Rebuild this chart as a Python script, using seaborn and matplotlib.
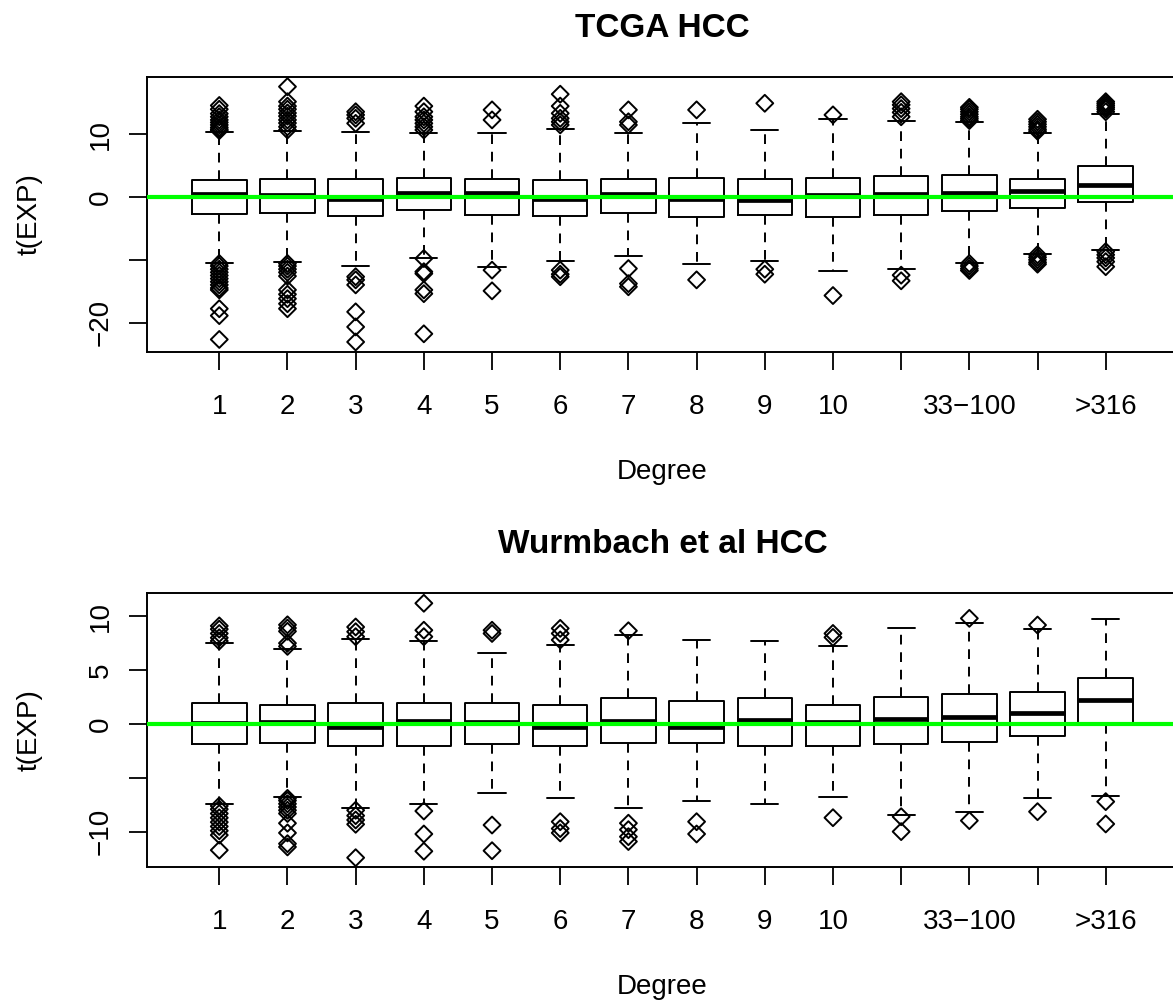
import matplotlib
matplotlib.use("Agg")
import matplotlib.pyplot as plt
import seaborn as sns
import pandas as pd

# ---------------- data ----------------
categories = ["1", "2", "3", "4", "5", "6", "7", "8", "9", "10",
              "11−32", "33−100", "101−316", ">316"]
shown_labels = ["1", "2", "3", "4", "5", "6", "7", "8", "9", "10",
                "", "33−100", "", ">316"]

# TCGA HCC
tcga_q1 = [-2.77, -2.6, -2.98, -2.07, -2.82, -2.98, -2.6, -3.19, -2.82, -3.19, -2.82, -2.18, -1.7, -0.75]
tcga_med = [0.48, 0.32, -0.32, 0.59, 0.59, -0.37, 0.48, -0.37, -0.48, 0.27, 0.48, 0.59, 1.0, 2.0]
tcga_q3 = [2.7, 2.82, 2.93, 3.09, 2.93, 2.7, 2.82, 2.98, 2.87, 3.03, 3.35, 3.56, 2.93, 4.95]
tcga_whislo = [-10.5, -10.4, -10.96, -9.68, -11.2, -10.16, -9.4, -10.7, -10.2, -11.86, -11.5, -10.5, -9.0, -8.46]
tcga_whishi = [10.4, 10.5, 10.3, 10.27, 10.16, 10.8, 10.16, 11.75, 10.7, 12.45, 12.2, 12.0, 10.16, 13.2]
tcga_out = [
    [14.6, 14.0, 13.3, 12.8, 12.3, 11.9, 11.5, 11.1, 10.8, 10.6,
     -10.6, -11.0, -11.5, -12.0, -12.5, -13.0, -13.5, -14.0, -14.5, -14.8, -17.8, -18.9, -22.7],
    [17.6, 15.2, 14.5, 14.0, 13.4, 12.9, 12.3, 11.8, 11.2, 10.7,
     -10.6, -11.0, -11.5, -12.0, -12.6, -14.8, -15.5, -16.2, -17.0, -17.8],
    [13.6, 13.1, 12.55, 11.75, -12.7, -13.2, -14.0, -18.3, -20.7, -23.1],
    [14.5, 13.6, 12.8, 12.3, 11.75, 11.2, 10.7, -9.8, -11.9, -12.2, -14.8, -15.4, -21.8],
    [13.9, 12.3, -11.65, -14.95],
    [16.4, 14.5, 13.35, 12.55, 12.0, 11.5, -11.65, -12.3, -12.7],
    [13.9, 12.0, 11.5, -11.4, -13.8, -14.3],
    [13.9, -13.2],
    [14.95, -11.5, -12.3],
    [13.1, -15.7],
    [15.2, 14.7, 14.1, 13.5, 12.8, -12.45, -13.35],
    [14.3, 14.0, 13.6, 13.2, 12.8, 12.5, 12.2, -10.6, -11.0, -11.4, -11.7],
    [12.4, 12.0, 11.6, 11.2, 10.8, 10.5, -9.2, -9.6, -10.0, -10.4, -10.7],
    [15.2, 14.9, 14.6, 14.3, 14.0, 13.6, -8.7, -9.2, -9.7, -10.3, -11.1],
]

# Wurmbach et al HCC
wurm_q1 = [-1.85, -1.73, -2.0, -2.0, -1.85, -2.0, -1.8, -1.8, -2.0, -2.04, -1.89, -1.67, -1.08, 0.0]
wurm_med = [0.1, 0.15, -0.25, 0.25, 0.15, -0.3, 0.25, -0.3, 0.37, 0.2, 0.43, 0.68, 0.99, 2.23]
wurm_q3 = [1.92, 1.79, 1.98, 1.92, 1.92, 1.76, 2.38, 2.1, 2.38, 1.76, 2.53, 2.78, 2.94, 4.27]
wurm_whislo = [-7.42, -6.8, -7.82, -7.42, -6.43, -6.9, -7.82, -7.1, -7.42, -6.8, -8.44, -8.2, -6.9, -6.65]
wurm_whishi = [7.48, 6.92, 7.88, 7.7, 6.6, 7.33, 8.25, 7.8, 7.73, 7.23, 8.87, 9.34, 8.84, 9.77]
wurm_out = [
    [9.1, 8.8, 8.4, 8.0, 7.7, -7.6, -7.9, -8.3, -8.7, -9.1, -9.5, -9.9, -10.3, -11.7],
    [9.2, 8.9, 8.6, 7.5, 7.2, -6.9, -7.1, -7.4, -7.7, -8.0, -8.3, -9.2, -10.1, -11.1, -11.4],
    [9.0, 8.56, 8.1, -8.0, -8.5, -8.9, -9.3, -12.4],
    [11.2, 8.7, 8.1, -8.07, -10.2, -11.8],
    [8.7, 8.4, -9.37, -11.75],
    [8.87, 8.4, 7.8, -9.06, -9.7, -10.1],
    [8.65, -9.2, -9.8, -10.45, -10.9],
    [-9.06, -10.2],
    [],
    [8.4, 8.04, -8.69],
    [-8.6, -9.98],
    [9.8, -8.96],
    [9.18, -8.13],
    [-7.2, -9.27],
]

# ---------------- style ----------------
sns.set_theme(style="ticks")
plt.rcParams["font.family"] = ["Liberation Sans", "DejaVu Sans"]
plt.rcParams["axes.linewidth"] = 1.4
plt.rcParams["text.color"] = "black"
plt.rcParams["axes.labelcolor"] = "black"
plt.rcParams["xtick.color"] = "black"
plt.rcParams["ytick.color"] = "black"

W, H = 1173, 1008
fig = plt.figure(figsize=(W / 100, H / 100), dpi=100)
ax_w = 1031 / W
ax1 = fig.add_axes([147 / W, (H - 352) / H, ax_w, 275 / H])
ax2 = fig.add_axes([147 / W, (H - 867.3) / H, ax_w, 274.6 / H])

LW = 1.4


def draw_panel(ax, q1, med, q3, lo, hi, outs, ylim, yticks, yticklabels, title):
    rows = [(categories[i], v) for i, lst in enumerate(outs) for v in lst]
    df = pd.DataFrame(rows, columns=["degree", "value"])
    sns.stripplot(data=df, x="degree", y="value", order=categories, jitter=False,
                  marker="D", size=8.6, color="black", linewidth=LW, ax=ax, zorder=3)
    for coll in ax.collections:
        coll.set_facecolor("none")
        coll.set_edgecolor("black")
        coll.set_linewidth(LW)

    stats = [dict(med=med[i], q1=q1[i], q3=q3[i], whislo=lo[i], whishi=hi[i], fliers=[])
             for i in range(len(categories))]
    ax.bxp(stats, positions=list(range(len(categories))), widths=0.8, capwidths=0.4,
           showfliers=False, manage_ticks=False,
           boxprops=dict(color="black", linewidth=LW),
           medianprops=dict(color="black", linewidth=3.4, solid_capstyle="butt"),
           whiskerprops=dict(color="black", linewidth=LW, linestyle=(0, (5, 4))),
           capprops=dict(color="black", linewidth=LW))

    ax.axhline(0, color="#00FF00", linewidth=3, zorder=10)

    ax.set_xlim(-1.06, 14.06)
    ax.set_ylim(*ylim)
    ax.set_xticks(range(len(categories)))
    ax.set_xticklabels(shown_labels)
    ax.set_yticks(yticks)
    ax.set_yticklabels(yticklabels)
    for s in ax.spines.values():
        s.set_visible(True)
        s.set_linewidth(1.4)
        s.set_color("black")
    ax.tick_params(axis="both", direction="out", length=13, width=1.3, color="black",
                   labelsize=20, labelcolor="black")
    ax.tick_params(axis="x", pad=17)
    ax.tick_params(axis="y", pad=11, labelrotation=90)
    for lab in ax.get_yticklabels():
        lab.set_va("center")
    ax.set_xlabel("Degree", fontsize=20, color="black")
    ax.set_ylabel("t(EXP)", fontsize=20, color="black")
    ax.xaxis.set_label_coords(0.5, -0.39)
    ax.yaxis.set_label_coords(-0.101, 0.5)
    ax.set_title(title, fontsize=24, fontweight="bold", color="black",
                 x=0.5, y=1.145, pad=0)
    ax.grid(False)


draw_panel(ax1, tcga_q1, tcga_med, tcga_q3, tcga_whislo, tcga_whishi, tcga_out,
           (-24.7, 19.14), [-20, -10, 0, 10], ["−20", "", "0", "10"], "TCGA HCC")
draw_panel(ax2, wurm_q1, wurm_med, wurm_q3, wurm_whislo, wurm_whishi, wurm_out,
           (-13.29, 12.18), [-10, -5, 0, 5, 10], ["−10", "", "0", "5", "10"],
           "Wurmbach et al HCC")

fig.savefig("out.png", dpi=100)
